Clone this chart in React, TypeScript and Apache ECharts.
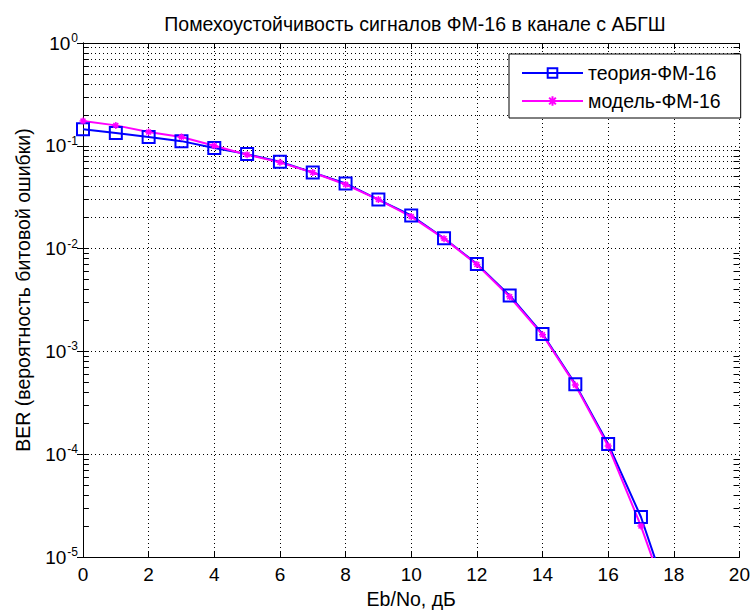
import React, { useEffect, useRef } from "react";
import * as echarts from "echarts";

const ebNo = [0, 1, 2, 3, 4, 5, 6, 7, 8, 9, 10, 11, 12, 13, 14, 15, 16, 17, 18];
const theoryBer = [0.145, 0.133, 0.122, 0.111, 0.095, 0.083, 0.07, 0.055, 0.043, 0.03, 0.021, 0.0126, 0.0071, 0.0035, 0.00148, 0.00048, 0.000126, 0.0000245, 0.0000028];
const modelBer = [0.174, 0.158, 0.136, 0.122, 0.1, 0.082, 0.069, 0.055, 0.042, 0.03, 0.0205, 0.0125, 0.007, 0.0034, 0.00145, 0.00047, 0.00012, 0.00002, 0.0000025];
const decadeExponents = [-5, -4, -3, -2, -1];
const minorMantissas = [2, 3, 4, 5, 6, 7, 8, 9];
const seriesNames = ["теория-ФМ-16", "модель-ФМ-16"];
const titleText = "Помехоустойчивость сигналов ФМ-16 в канале с АБГШ";
const xName = "Eb/No, дБ";
const yName = "BER (вероятность битовой ошибки)";
const xMin = 0;
const xMax = 20;
const xStep = 2;
const yMin = 1e-5;
const yMax = 1;

const FONT = "'Liberation Sans', Arial, Helvetica, sans-serif";
const FS = 19.5;
const ASTERISK = "path://M0,5L10,5M5,0L5,10M1.5,1.5L8.5,8.5M8.5,1.5L1.5,8.5";

export default function App() {
  const ref = useRef<HTMLDivElement>(null);

  useEffect(() => {
    if (!ref.current) return;
    const chart = echarts.init(ref.current, null, { renderer: "svg" });

    const minorValues: number[] = [];
    decadeExponents.forEach((e) => minorMantissas.forEach((m) => minorValues.push(m * Math.pow(10, e))));

    const dotted = { color: "#000", width: 1, type: [1, 3] as any };
    const solid = { color: "#000", width: 1, type: "solid" as any };
    const tickLen = 0.18;

    const markData: any[] = [];
    minorValues.forEach((v) => {
      markData.push({ yAxis: v, lineStyle: dotted });
      markData.push([{ coord: [xMin, v], lineStyle: solid }, { coord: [xMin + tickLen, v] }]);
      markData.push([{ coord: [xMax - tickLen, v], lineStyle: solid }, { coord: [xMax, v] }]);
    });

    const axisLine = { show: true, lineStyle: { color: "#000", width: 1 } };
    const tick = { show: true, inside: true, length: 6, lineStyle: { color: "#000" } };

    chart.setOption({
      animation: false,
      backgroundColor: "#fff",
      textStyle: { fontFamily: FONT },
      title: {
        text: titleText,
        left: 410,
        top: 9,
        textAlign: "center",
        textStyle: { fontFamily: FONT, fontSize: FS, fontWeight: "normal", color: "#000" },
      },
      grid: { left: 83, right: 10, top: 43, bottom: 52 },
      legend: {
        orient: "vertical",
        left: 509,
        top: 54,
        padding: [9, 20, 7, 12],
        itemGap: 8,
        itemWidth: 61,
        itemHeight: 12,
        borderColor: "#000",
        borderWidth: 1,
        backgroundColor: "#fff",
        textStyle: { fontFamily: FONT, fontSize: FS, color: "#000" },
        data: seriesNames,
      },
      xAxis: [
        {
          type: "value",
          min: xMin,
          max: xMax,
          interval: xStep,
          position: "bottom",
          name: xName,
          nameLocation: "middle",
          nameGap: 32,
          nameTextStyle: { fontFamily: FONT, fontSize: FS, color: "#000" },
          axisLine,
          axisTick: tick,
          axisLabel: { fontFamily: FONT, fontSize: 19, color: "#000", margin: 8 },
          splitLine: { show: true, lineStyle: dotted },
        },
        {
          type: "value",
          min: xMin,
          max: xMax,
          interval: xStep,
          position: "top",
          axisLine,
          axisTick: tick,
          axisLabel: { show: false },
          splitLine: { show: false },
        },
      ],
      yAxis: [
        {
          type: "log",
          logBase: 10,
          min: yMin,
          max: yMax,
          splitNumber: 5,
          position: "left",
          name: yName,
          nameLocation: "middle",
          nameGap: 50,
          nameTextStyle: { fontFamily: FONT, fontSize: FS, color: "#000", padding: [0, 0, 0, 20] },
          axisLine,
          axisTick: tick,
          axisLabel: {
            margin: 5,
            formatter: (v: number) => `{b|10}{s|${Math.round(Math.log10(v))}}`,
            rich: {
              b: { fontFamily: FONT, fontSize: 19, color: "#000", lineHeight: 22 },
              s: { fontFamily: FONT, fontSize: 12, color: "#000", verticalAlign: "top", lineHeight: 12, padding: [0, 0, 0, 1] },
            },
          },
          splitLine: { show: true, lineStyle: dotted },
        },
        {
          type: "log",
          logBase: 10,
          min: yMin,
          max: yMax,
          splitNumber: 5,
          position: "right",
          axisLine,
          axisTick: tick,
          axisLabel: { show: false },
          splitLine: { show: false },
        },
      ],
      series: [
        {
          name: seriesNames[0],
          type: "line",
          xAxisIndex: 0,
          yAxisIndex: 0,
          data: ebNo.map((x, i) => [x, theoryBer[i]]),
          symbol: "rect",
          symbolSize: 12,
          showAllSymbol: true,
          clip: true,
          color: "#0000ff",
          itemStyle: { color: "rgba(255,255,255,0)", borderColor: "#0000ff", borderWidth: 2 },
          lineStyle: { color: "#0000ff", width: 2 },
          markLine: {
            silent: true,
            z: 1,
            symbol: ["none", "none"],
            label: { show: false },
            emphasis: { disabled: true },
            data: markData,
          },
        },
        {
          name: seriesNames[1],
          type: "line",
          xAxisIndex: 0,
          yAxisIndex: 0,
          data: ebNo.map((x, i) => [x, modelBer[i]]),
          symbol: ASTERISK,
          symbolSize: 7,
          showAllSymbol: true,
          clip: true,
          color: "#ff00ff",
          itemStyle: { color: "none", borderColor: "#ff00ff", borderWidth: 1.5 },
          lineStyle: { color: "#ff00ff", width: 2 },
        },
      ],
    });

    return () => chart.dispose();
  }, []);

  return <div ref={ref} style={{ position: "fixed", left: 0, top: 0, width: 753, height: 614 }} />;
}
